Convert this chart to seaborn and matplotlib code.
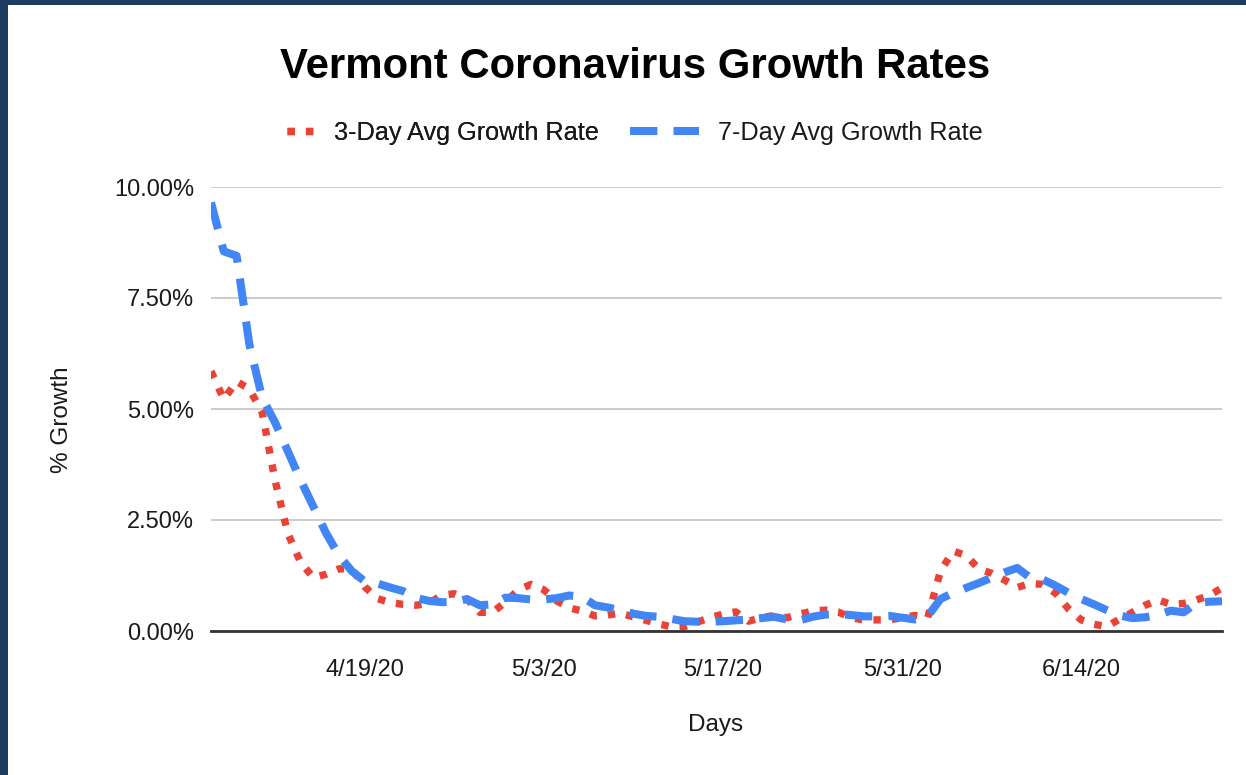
import matplotlib
matplotlib.use("Agg")
import matplotlib.pyplot as plt
import matplotlib.dates as mdates
from matplotlib.ticker import StrMethodFormatter
from matplotlib.patches import Rectangle
from matplotlib.lines import Line2D
import pandas as pd
import seaborn as sns

# ---- data (percent growth) ----
dates = pd.date_range("2020-04-07", "2020-06-25", freq="D")
three_day = [5.85, 5.22, 5.62, 5.45, 4.92, 3.4, 2.2, 1.55, 1.2, 1.28,
             1.4, 1.4, 1.0, 0.73, 0.64, 0.6, 0.58, 0.62, 0.8, 0.84,
             0.72, 0.42, 0.42, 0.65, 0.92, 1.05, 0.93, 0.68, 0.52, 0.45,
             0.34, 0.36, 0.4, 0.32, 0.24, 0.16, 0.09, 0.1, 0.2, 0.3,
             0.38, 0.43, 0.22, 0.3, 0.35, 0.3, 0.38, 0.45, 0.47, 0.43,
             0.3, 0.25, 0.25, 0.25, 0.3, 0.35, 0.3, 1.35, 1.8, 1.7,
             1.4, 1.3, 1.15, 0.98, 1.07, 1.05, 0.85, 0.5, 0.25, 0.15,
             0.1, 0.27, 0.42, 0.58, 0.7, 0.6, 0.62, 0.7, 0.8, 0.97]
seven_day = [9.65, 8.55, 8.45, 6.45, 5.25, 4.7, 4.05, 3.4, 2.8, 2.2,
             1.7, 1.35, 1.12, 1.07, 0.98, 0.9, 0.75, 0.68, 0.65, 0.65,
             0.72, 0.58, 0.6, 0.75, 0.74, 0.71, 0.71, 0.74, 0.8, 0.77,
             0.58, 0.53, 0.47, 0.39, 0.34, 0.32, 0.27, 0.22, 0.21, 0.21,
             0.22, 0.24, 0.26, 0.29, 0.32, 0.26, 0.24, 0.32, 0.37, 0.38,
             0.36, 0.33, 0.33, 0.34, 0.3, 0.26, 0.33, 0.72, 0.86, 0.97,
             1.08, 1.2, 1.32, 1.42, 1.2, 1.16, 1.02, 0.86, 0.72, 0.6,
             0.47, 0.35, 0.29, 0.31, 0.36, 0.46, 0.42, 0.63, 0.66, 0.67]
series_names = ["3-Day Avg Growth Rate", "7-Day Avg Growth Rate"]
tick_dates = ["2020-04-19", "2020-05-03", "2020-05-17", "2020-05-31", "2020-06-14"]
y_ticks = [0, 2.5, 5, 7.5, 10]

df = pd.concat([
    pd.DataFrame({"Days": dates, "Growth": three_day, "Series": series_names[0]}),
    pd.DataFrame({"Days": dates, "Growth": seven_day, "Series": series_names[1]}),
])

# ---- style ----
sns.set_theme(style="white")
plt.rcParams["font.family"] = ["Liberation Sans", "DejaVu Sans"]
RED = "#ea4335"
BLUE = "#4285f4"
TXT = "#1a1a1a"

fig = plt.figure(figsize=(12.46, 7.75), dpi=100)
fig.patch.set_facecolor("white")
ax = fig.add_axes([211 / 1246, 1 - 631 / 775, (1222 - 211) / 1246, (631 - 187) / 775])

sns.lineplot(data=df, x="Days", y="Growth", hue="Series", style="Series",
             palette={series_names[0]: RED, series_names[1]: BLUE},
             dashes={series_names[0]: (1, 1.5), series_names[1]: (3.4, 2.0)},
             linewidth=5.3, legend=False, ax=ax)
for ln in ax.get_lines():
    ln.set_dash_capstyle("butt")
    ln.set_solid_capstyle("butt")
    if str(ln.get_color()).lower() == BLUE:
        ln.set_linewidth(5.8)

ax.set_xlim(dates[0], dates[-1])
ax.set_ylim(0, 10)
ax.set_yticks(y_ticks)
ax.yaxis.set_major_formatter(StrMethodFormatter("{x:.2f}%"))
ax.set_xticks(pd.to_datetime(tick_dates))
ax.xaxis.set_major_formatter(mdates.DateFormatter("%-m/%-d/%y"))
ax.tick_params(axis="both", length=0, labelsize=17, labelcolor=TXT)
ax.tick_params(axis="y", pad=12)
ax.tick_params(axis="x", pad=20)
ax.grid(axis="y", color="#cccccc", linewidth=1.4)
ax.grid(axis="x", visible=False)
for s in ["top", "right", "left"]:
    ax.spines[s].set_visible(False)
ax.spines["bottom"].set_color("#333333")
ax.spines["bottom"].set_linewidth(2)
ax.spines["bottom"].set_zorder(5)
ax.set_xlabel("")
ax.set_ylabel("")

fig.text(716 / 1246, 1 - 725 / 775, "Days", ha="center", va="center", fontsize=17.5, color=TXT)
fig.text(62 / 1246, 1 - 420 / 775, "% Growth", ha="center", va="center", rotation=90,
         fontsize=17.5, color=TXT)
fig.text(635 / 1246, 1 - 67 / 775, "Vermont Coronavirus Growth Rates", ha="center", va="center",
         fontsize=30.2, fontweight="bold", color="#000000")

# legend: two entries with own handle lengths
h_red = Line2D([], [], color=RED, linewidth=5.3, dashes=(1, 1.5), dash_capstyle="butt")
h_blue = Line2D([], [], color=BLUE, linewidth=5.8, dashes=(3.4, 2.0), dash_capstyle="butt")
leg1 = fig.legend([h_red], [series_names[0]], loc="center left",
                  bbox_to_anchor=(264 / 1246, 1 - 133 / 775), frameon=False,
                  fontsize=18.2, handlelength=1.3, handletextpad=0.55, labelcolor=TXT)
fig.add_artist(leg1)
leg2 = fig.legend([h_blue], [series_names[1]], loc="center left",
                  bbox_to_anchor=(607 / 1246, 1 - 133 / 775), frameon=False,
                  fontsize=18.2, handlelength=2.75, handletextpad=0.75, labelcolor=TXT)

# screenshot frame (top and left dark border)
fig.add_artist(Rectangle((0, 1 - 5 / 775), 1, 5 / 775, transform=fig.transFigure,
                         facecolor="#1d3c5e", edgecolor="none", zorder=10))
fig.add_artist(Rectangle((0, 0), 8 / 1246, 1, transform=fig.transFigure,
                         facecolor="#1d3c5e", edgecolor="none", zorder=10))

fig.savefig("out.png", dpi=100)
